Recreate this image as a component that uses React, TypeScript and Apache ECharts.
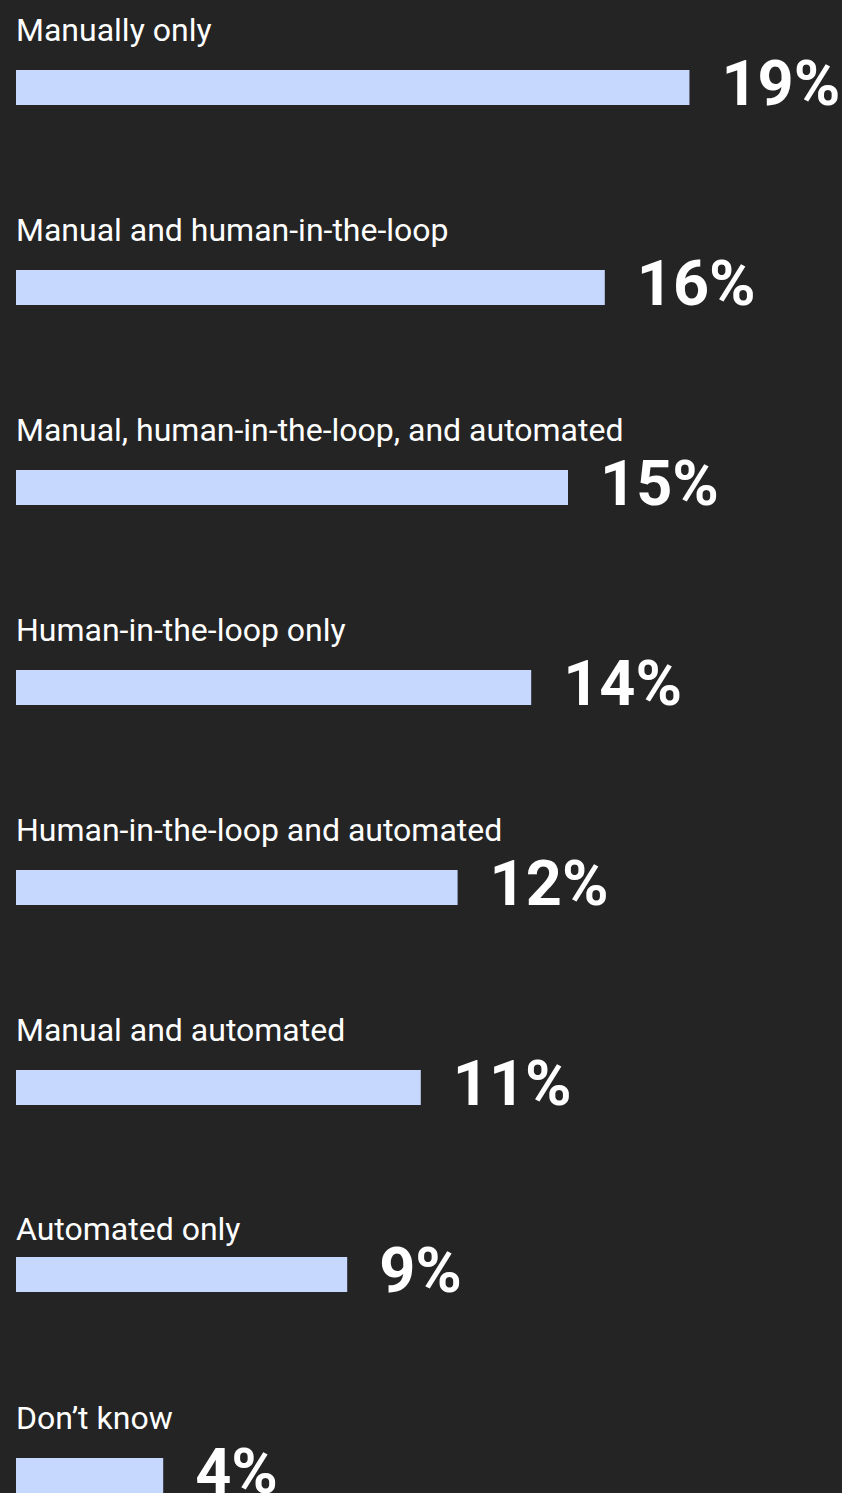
import React, { useEffect, useRef } from "react";
import * as echarts from "echarts";

const categories = [
  "Manually only",
  "Manual and human-in-the-loop",
  "Manual, human-in-the-loop, and automated",
  "Human-in-the-loop only",
  "Human-in-the-loop and automated",
  "Manual and automated",
  "Automated only",
  "Don\u2019t know",
];
// bar lengths (percent)
const values = [18.3, 16, 15, 14, 12, 11, 9, 4];
// value labels as printed
const valueLabels = ["19%", "16%", "15%", "14%", "12%", "11%", "9%", "4%"];

// layout (px): top of each bar and vertical offset of its category label
const barTops = [70, 270, 470, 670, 870, 1070, 1257, 1458];
const labelDy = [-40, -40, -40, -40, -40, -40, -28, -40];

const BAR_H = 35;
const AXIS_MAX = 20;
const GRID_LEFT = 16;
const GRID_W = 736;

export default function App() {
  const ref = useRef<HTMLDivElement>(null);
  useEffect(() => {
    document.body.style.margin = "0";
    document.body.style.background = "#242424";
    if (!ref.current) return;
    const chart = echarts.init(ref.current, undefined, { renderer: "svg" });
    const grids: any[] = [];
    const xAxes: any[] = [];
    const yAxes: any[] = [];
    const series: any[] = [];
    categories.forEach((cat, i) => {
      grids.push({ left: GRID_LEFT, top: barTops[i], width: GRID_W, height: BAR_H });
      xAxes.push({ type: "value", gridIndex: i, min: 0, max: AXIS_MAX, show: false });
      yAxes.push({ type: "category", gridIndex: i, data: [cat], show: false });
      series.push({
        type: "bar",
        xAxisIndex: i,
        yAxisIndex: i,
        data: [values[i]],
        barWidth: BAR_H,
        itemStyle: { color: "#c6d8fe" },
        silent: true,
        label: {
          show: true,
          position: "right",
          distance: 32,
          offset: [0, -4],
          formatter: () => valueLabels[i],
          color: "#ffffff",
          fontFamily: "Roboto",
          fontWeight: "bold",
          fontSize: 63,
        },
      });
      series.push({
        type: "bar",
        xAxisIndex: i,
        yAxisIndex: i,
        data: [values[i]],
        barWidth: BAR_H,
        barGap: "-100%",
        itemStyle: { color: "transparent" },
        silent: true,
        label: {
          show: true,
          position: [0, labelDy[i]],
          align: "left",
          verticalAlign: "middle",
          formatter: "{b}",
          color: "#ffffff",
          fontFamily: "Roboto",
          fontSize: 32,
        },
      });
    });
    chart.setOption({
      animation: false,
      backgroundColor: "#242424",
      grid: grids,
      xAxis: xAxes,
      yAxis: yAxes,
      series,
    });
    return () => chart.dispose();
  }, []);
  return <div ref={ref} style={{ width: 842, height: 1493 }} />;
}
